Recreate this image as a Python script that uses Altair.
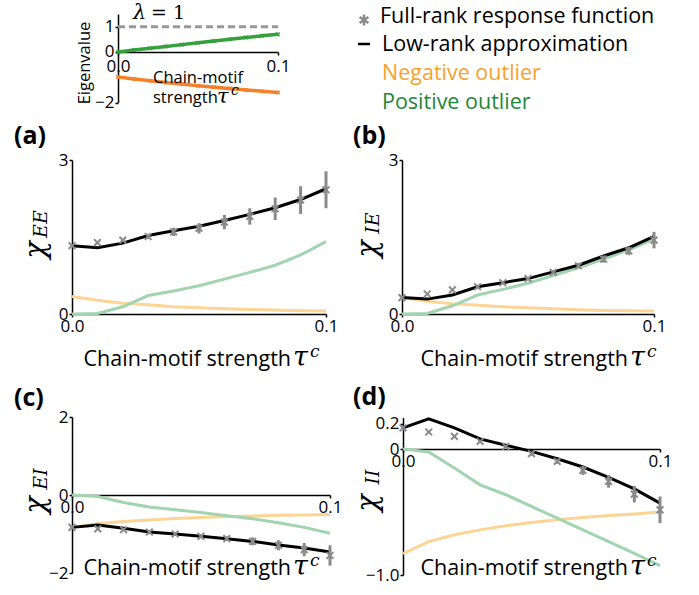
import altair as alt
import pandas as pd

# ---------------- data ----------------
tau = [0.0, 0.01, 0.02, 0.03, 0.04, 0.05, 0.06, 0.07, 0.08, 0.09, 0.1]

# inset: outlier eigenvalues vs chain-motif strength
eig_pos = [0.0, 0.08, 0.15, 0.22, 0.29, 0.36, 0.43, 0.50, 0.57, 0.64, 0.70]
eig_neg = [-0.99, -1.07, -1.14, -1.21, -1.27, -1.33, -1.39, -1.44, -1.50, -1.55, -1.60]
lam_tau = [0.0, 0.1]
lam_val = [1.0, 1.0]
inset_yticks = [-2, 0, 1]

# (a) chi_EE
a_low = [1.33, 1.29, 1.38, 1.53, 1.62, 1.71, 1.82, 1.94, 2.07, 2.23, 2.44]
a_full = [1.33, 1.39, 1.44, 1.51, 1.60, 1.67, 1.79, 1.90, 2.05, 2.22, 2.42]
a_err = [0.02, 0.02, 0.02, 0.05, 0.08, 0.10, 0.14, 0.16, 0.22, 0.27, 0.36]
a_pos = [0.0, 0.01, 0.14, 0.36, 0.45, 0.55, 0.68, 0.81, 0.95, 1.15, 1.41]
a_neg = [0.34, 0.27, 0.21, 0.18, 0.14, 0.12, 0.10, 0.09, 0.08, 0.065, 0.06]

# (b) chi_IE
b_low = [0.32, 0.29, 0.37, 0.53, 0.61, 0.69, 0.82, 0.95, 1.13, 1.29, 1.51]
b_full = [0.32, 0.39, 0.47, 0.53, 0.61, 0.69, 0.81, 0.94, 1.07, 1.23, 1.44]
b_err = [0.02, 0.02, 0.02, 0.02, 0.02, 0.03, 0.03, 0.05, 0.07, 0.08, 0.16]
b_pos = [0.0, 0.01, 0.16, 0.37, 0.48, 0.60, 0.75, 0.90, 1.07, 1.25, 1.46]
b_neg = [0.32, 0.25, 0.20, 0.17, 0.14, 0.12, 0.10, 0.085, 0.07, 0.065, 0.06]

# (c) chi_EI
c_low = [-0.83, -0.77, -0.85, -0.95, -1.00, -1.06, -1.12, -1.19, -1.28, -1.36, -1.46]
c_full = [-0.83, -0.87, -0.89, -0.95, -1.00, -1.06, -1.12, -1.19, -1.29, -1.40, -1.55]
c_err = [0.03, 0.03, 0.03, 0.03, 0.03, 0.05, 0.06, 0.10, 0.13, 0.17, 0.26]
c_pos = [0.0, -0.04, -0.19, -0.31, -0.38, -0.45, -0.53, -0.61, -0.71, -0.83, -0.98]
c_neg = [-0.83, -0.74, -0.68, -0.64, -0.60, -0.58, -0.55, -0.54, -0.52, -0.51, -0.50]

# (d) chi_II
d_low = [0.167, 0.24, 0.167, 0.08, 0.03, -0.019, -0.077, -0.143, -0.225, -0.316, -0.43]
d_full = [0.167, 0.135, 0.10, 0.06, 0.02, -0.037, -0.098, -0.17, -0.257, -0.358, -0.483]
d_err = [0.01, 0.01, 0.01, 0.01, 0.01, 0.015, 0.02, 0.036, 0.05, 0.066, 0.106]
d_pos = [0.0, -0.024, -0.151, -0.284, -0.363, -0.456, -0.549, -0.642, -0.735, -0.828, -0.926]
d_neg = [-0.83, -0.735, -0.68, -0.642, -0.61, -0.584, -0.562, -0.544, -0.528, -0.515, -0.50]

x_ticks = [0.0, 0.1]

# ---------------- styling ----------------
W, H = 699, 595
FONT = "Open Sans"
SERIF = "DejaVu Serif"
GREEN_L = "#a3d4b0"
ORANGE_L = "#fcd495"
GREEN = "#35a03c"
ORANGE = "#f4802a"
GRAY = "#8a8a8a"
XPATH = "M-1,-1L1,1M-1,1L1,-1"
ASTER = "M0,-1L0,1M-0.8,-0.55L0.8,0.55M-0.8,0.55L0.8,-0.55"

one = pd.DataFrame({"k": [0]})


def T(s, x, y, size=20, color="black", font=FONT, align="left",
      baseline="alphabetic", angle=0, weight="normal", style="normal"):
    return alt.Chart(one).mark_text(
        align=align, baseline=baseline, font=font, fontSize=size,
        color=color, angle=angle, fontWeight=weight, fontStyle=style
    ).encode(x=alt.value(x), y=alt.value(y), text=alt.value(s))


def panel(low, full, err, pos, neg, xr, yr, ydom, yvals, xaxis_y, ylab_expr):
    df = pd.DataFrame({"tau": tau, "low": low, "full": full, "pos": pos, "neg": neg,
                       "lo": [f - e for f, e in zip(full, err)],
                       "hi": [f + e for f, e in zip(full, err)]})
    xs = alt.Scale(domain=[0, 0.1], range=xr, nice=False, zero=False)
    ys = alt.Scale(domain=ydom, range=yr, nice=False, zero=False)
    xax = alt.Axis(orient="bottom", offset=xaxis_y - H, values=x_ticks, format=".1f",
                   title=None, labelFlush=False, labelOverlap=False)
    yax = alt.Axis(orient="left", offset=-xr[0], values=yvals, labelExpr=ylab_expr,
                   tickCount=len(yvals), title=None, labelFlush=False, labelOverlap=False)
    base = alt.Chart(df)
    out = [
        base.mark_line(color=ORANGE_L, strokeWidth=3).encode(
            x=alt.X("tau:Q", scale=xs, axis=xax), y=alt.Y("neg:Q", scale=ys, axis=yax)),
        base.mark_line(color=GREEN_L, strokeWidth=3).encode(
            x=alt.X("tau:Q", scale=xs, axis=None), y=alt.Y("pos:Q", scale=ys, axis=None)),
        base.mark_line(color="black", strokeWidth=3).encode(
            x=alt.X("tau:Q", scale=xs, axis=None), y=alt.Y("low:Q", scale=ys, axis=None)),
        base.mark_rule(color=GRAY, strokeWidth=3).encode(
            x=alt.X("tau:Q", scale=xs, axis=None), y=alt.Y("lo:Q", scale=ys, axis=None),
            y2="hi:Q"),
        base.mark_point(shape=XPATH, filled=False, color=GRAY, strokeWidth=2,
                        size=45, opacity=1).encode(
            x=alt.X("tau:Q", scale=xs, axis=None), y=alt.Y("full:Q", scale=ys, axis=None)),
    ]
    return out


def xtitle(x_end, y, size=21.5):
    return [
        T("Chain-motif strength", x_end, y, size=size, align="right"),
        T("τ", x_end + 2, y, size=27, font=SERIF, style="italic"),
        T("c", x_end + 19, y - 9, size=17, font=SERIF, style="italic"),
    ]


def ytitle(sub, x, y):
    return [
        T("χ", x, y, size=29, font=SERIF, style="italic", align="center",
          baseline="middle", angle=270),
        T(sub, x + 5, y - 26, size=19, font=SERIF, style="italic", align="center",
          baseline="middle", angle=270),
    ]


layers = []

# ---------------- inset ----------------
ins = pd.DataFrame({"tau": tau, "pos": eig_pos, "neg": eig_neg})
lam = pd.DataFrame({"tau": lam_tau, "val": lam_val})
ixs = alt.Scale(domain=[0, 0.1], range=[118, 278], nice=False, zero=False)
iys = alt.Scale(domain=[-2, 1.5], range=[102.6, 14], nice=False, zero=False)
ixax = alt.Axis(orient="bottom", offset=52 - H, values=x_ticks, format=".1f", title=None,
                labelFlush=False, labelOverlap=False, labelPadding=3)
iyax = alt.Axis(orient="left", offset=-118, values=inset_yticks, tickCount=3,
                labelExpr="format(datum.value, 'd')", title=None,
                labelFlush=False, labelOverlap=False, labelBound=False)
layers += [
    alt.Chart(ins).mark_line(color=GREEN, strokeWidth=3.5).encode(
        x=alt.X("tau:Q", scale=ixs, axis=ixax), y=alt.Y("pos:Q", scale=iys, axis=iyax)),
    alt.Chart(lam).mark_line(color="#999999", strokeWidth=3, strokeDash=[7, 4]).encode(
        x=alt.X("tau:Q", scale=ixs, axis=None), y=alt.Y("val:Q", scale=iys, axis=None)),
    alt.Chart(ins).mark_point(shape=XPATH, filled=False, color=GREEN, strokeWidth=1.5,
                              size=12, opacity=1).encode(
        x=alt.X("tau:Q", scale=ixs, axis=None), y=alt.Y("pos:Q", scale=iys, axis=None)),
    alt.Chart(ins).mark_line(color=ORANGE, strokeWidth=3.5).encode(
        x=alt.X("tau:Q", scale=ixs, axis=None), y=alt.Y("neg:Q", scale=iys, axis=None)),
    alt.Chart(ins).mark_point(shape=XPATH, filled=False, color=ORANGE, strokeWidth=1.5,
                              size=12, opacity=1).encode(
        x=alt.X("tau:Q", scale=ixs, axis=None), y=alt.Y("neg:Q", scale=iys, axis=None)),
]
layers += [
    T("λ", 133, 19, size=21, font=SERIF, style="italic"),
    T("= 1", 151, 19, size=19, font=SERIF),
    T("Eigenvalue", 85, 63, size=16.5, align="center", baseline="middle", angle=270),
    T("Chain-motif", 153, 83, size=16.5),
    T("strength", 153, 103, size=16.5),
    T("τ", 217, 103, size=21, font=SERIF, style="italic"),
    T("c", 231, 95, size=14, font=SERIF, style="italic"),
]

# ---------------- panels ----------------
EXPR_INT = "format(datum.value, 'd')"
EXPR_D = "datum.value == 0 ? '0' : format(datum.value, '.1f')"
layers += panel(a_low, a_full, a_err, a_pos, a_neg, [72, 326], [314, 160], [0, 3], [0, 3], 314, EXPR_INT)
layers += panel(b_low, b_full, b_err, b_pos, b_neg, [402, 654], [314, 160], [0, 3], [0, 3], 314, EXPR_INT)
layers += panel(c_low, c_full, c_err, c_pos, c_neg, [72, 330], [573, 417], [-2, 2], [-2, 0, 2], 495, EXPR_INT)
layers += panel(d_low, d_full, d_err, d_pos, d_neg, [403, 660], [575, 417.5], [-1, 0.25], [-1, 0, 0.2], 449, EXPR_D)

layers += xtitle(291, 366) + xtitle(628, 366) + xtitle(291, 575) + xtitle(628, 575)
layers += ytitle("EE", 36, 250) + ytitle("IE", 368, 249) + ytitle("EI", 36, 505) + ytitle("II", 368, 503)
layers += [
    T("(a)", 14, 144, size=25, weight="bold"),
    T("(b)", 353, 144, size=25, weight="bold"),
    T("(c)", 14, 406, size=25, weight="bold"),
    T("(d)", 353, 405, size=25, weight="bold"),
]

# ---------------- legend ----------------
layers += [
    alt.Chart(one).mark_point(shape=ASTER, filled=False, color=GRAY, strokeWidth=2.5,
                              size=120, opacity=1).encode(x=alt.value(364), y=alt.value(20)),
    alt.Chart(one).mark_rule(color="black", strokeWidth=2.5).encode(
        x=alt.value(358), x2=alt.value(370), y=alt.value(44)),
    T("Full-rank response function", 380, 23, size=21.5),
    T("Low-rank approximation", 382, 51, size=21.5),
    T("Negative outlier", 382, 80, size=21.5, color="#f6a12e"),
    T("Positive outlier", 382, 109, size=21.5, color="#23873a"),
]

chart = alt.layer(*layers).resolve_scale(
    x="independent", y="independent"
).resolve_axis(
    x="independent", y="independent"
).properties(
    width=W, height=H, padding=0, autosize=alt.AutoSizeParams(type="none")
).configure_view(stroke=None).configure_axis(
    grid=False, labelFont=FONT, labelFontSize=17, labelColor="black",
    domainColor="black", domainWidth=1.5, tickColor="black", tickWidth=1.5,
    tickSize=3, labelPadding=1
)

chart.save("out.html", embed_options={"renderer": "svg", "actions": False})
